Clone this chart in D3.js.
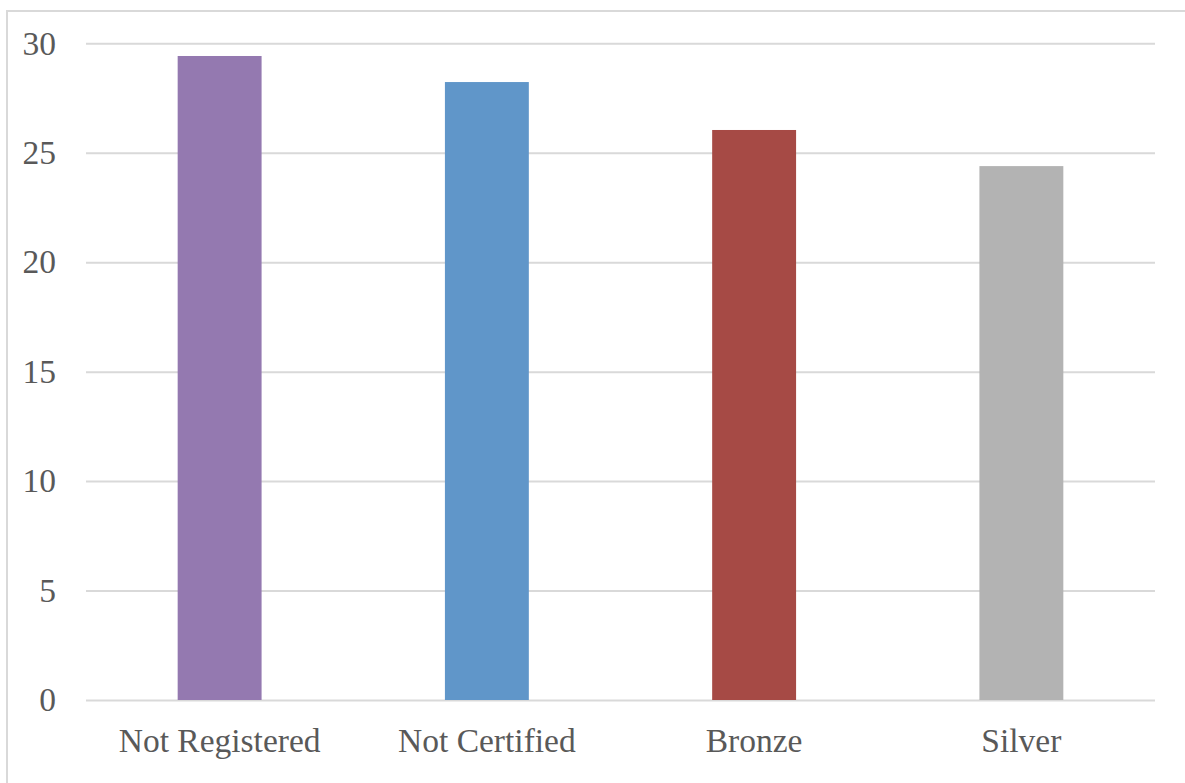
<!DOCTYPE html>
<html>
<head>
<meta charset="utf-8">
<script src="https://cdn.jsdelivr.net/npm/d3@7"></script>
<style>
  html, body { margin: 0; padding: 0; background: #fff; }
  svg { display: block; }
  text { font-family: "Liberation Serif", "DejaVu Serif", serif; fill: #595959; }
</style>
</head>
<body>
<svg id="chart" width="1185" height="783"></svg>
<script>
// Chart data
const categories = ["Not Registered", "Not Certified", "Bronze", "Silver"];
const values = [29.42, 28.23, 26.04, 24.39];
const colors = ["#9479B0", "#6096C9", "#A64A45", "#B3B3B3"];
const yTicks = [0, 5, 10, 15, 20, 25, 30];

const svg = d3.select("#chart");
const W = 1185, H = 783;
const plot = { left: 86, right: 1155, top: 43.3, bottom: 700 };
const fontSize = 33.5;

// chart-area frame
svg.append("rect")
  .attr("x", 7).attr("y", 11)
  .attr("width", W + 10).attr("height", H + 10)
  .attr("fill", "#fff")
  .attr("stroke", "#D9D9D9").attr("stroke-width", 2);

const x = d3.scaleBand()
  .domain(categories)
  .range([plot.left, plot.right])
  .paddingInner(0.686)
  .paddingOuter(0.343);

const y = d3.scaleLinear()
  .domain([0, 30])
  .range([plot.bottom, plot.top]);

// gridlines and value labels
const yAxis = d3.axisLeft(y)
  .tickValues(yTicks)
  .tickSize(-(plot.right - plot.left))
  .tickPadding(30)
  .tickFormat(d3.format("d"));

const gy = svg.append("g")
  .attr("transform", `translate(${plot.left},0)`)
  .call(yAxis);
gy.select(".domain").remove();
gy.selectAll(".tick line").attr("stroke", "#D9D9D9").attr("stroke-width", 2);
gy.selectAll(".tick text")
  .attr("font-size", fontSize)
  .attr("fill", "#595959")
  .attr("font-family", "Liberation Serif, DejaVu Serif, serif");

// bars
svg.append("g").selectAll("rect")
  .data(categories)
  .join("rect")
  .attr("x", d => x(d))
  .attr("width", x.bandwidth())
  .attr("y", (d, i) => y(values[i]))
  .attr("height", (d, i) => y(0) - y(values[i]))
  .attr("fill", (d, i) => colors[i]);

// category labels
const xAxis = d3.axisBottom(x).tickSize(0).tickPadding(28);
const gx = svg.append("g")
  .attr("transform", `translate(0,${plot.bottom})`)
  .call(xAxis);
gx.select(".domain").remove();
gx.selectAll(".tick text")
  .attr("font-size", fontSize)
  .attr("fill", "#595959")
  .attr("font-family", "Liberation Serif, DejaVu Serif, serif");
</script>
</body>
</html>
